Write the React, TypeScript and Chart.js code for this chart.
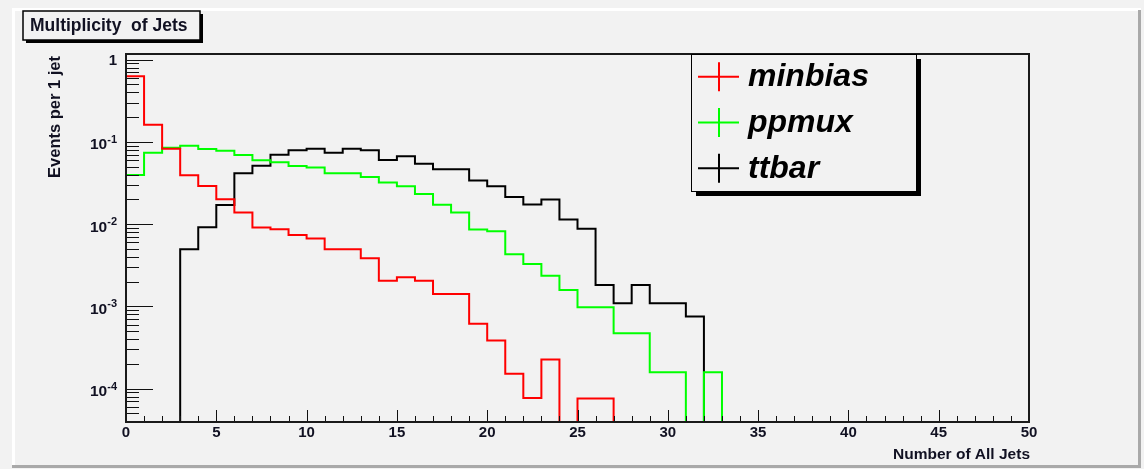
import React, { useEffect, useRef } from "react";
import { Chart, registerables } from "chart.js";

Chart.register(...registerables);

// ---------------- DATA ----------------
const seriesNames = ["minbias", "ppmux", "ttbar"];
const seriesColors = ["#ff0000", "#00ff00", "#000000"];

const xMin = 0;
const xMax = 50;

// one value per bin (bin i spans [i, i+1])
const minbias = [
  0.628, 0.161, 0.0827, 0.0393, 0.0291, 0.0201, 0.0139, 0.0091, 0.0087, 0.0074,
  0.0067, 0.00494, 0.00494, 0.00384, 0.00205, 0.00226, 0.00205, 0.00142, 0.00142, 0.000614,
  0.000385, 0.000152, 0.000077, 0.000226, 0, 0.000076, 0.000076, 0, 0, 0,
  0, 0, 0, 0, 0, 0, 0, 0, 0, 0,
  0, 0, 0, 0, 0, 0, 0, 0, 0, 0,
];
const ppmux = [
  0.0396, 0.074, 0.085, 0.0899, 0.0818, 0.0782, 0.0692, 0.0597, 0.0565, 0.0509,
  0.049, 0.0415, 0.0415, 0.0375, 0.032, 0.0289, 0.0233, 0.0172, 0.0139, 0.00863,
  0.00822, 0.0043, 0.00327, 0.00236, 0.00158, 0.00098, 0.00098, 0.000473, 0.000473, 0.000159,
  0.000159, 0, 0.000159, 0, 0, 0, 0, 0, 0, 0,
  0, 0, 0, 0, 0, 0, 0, 0, 0, 0,
];
const ttbar = [
  0, 0, 0, 0.00494, 0.0092, 0.0171, 0.0415, 0.0514, 0.0699, 0.0789,
  0.0827, 0.074, 0.0827, 0.0789, 0.0602, 0.0667, 0.0543, 0.0464, 0.0464, 0.0339,
  0.0289, 0.0214, 0.0173, 0.0199, 0.0114, 0.00877, 0.00182, 0.00109, 0.00182, 0.00109,
  0.00109, 0.000753, 0, 0, 0, 0, 0, 0, 0, 0,
  0, 0, 0, 0, 0, 0, 0, 0, 0, 0,
];

const xMajorTicks = [0, 5, 10, 15, 20, 25, 30, 35, 40, 45, 50];
const xTickLabels = ["0", "5", "10", "15", "20", "25", "30", "35", "40", "45", "50"];
const yMajorTicks = [1, 0.1, 0.01, 0.001, 0.0001];
const yTickBases = ["1", "10", "10", "10", "10"];
const yTickExps = ["", "-1", "-2", "-3", "-4"];

const yMin = 3.94e-5;
const yMax = 1.17;

const titleText = "Multiplicity  of Jets";
const xTitle = "Number of All Jets";
const yTitle = "Events per 1 jet";

// ---------------- STYLE ----------------
const BG = "#f2f2f2";
const FONT = '"Liberation Sans", Arial, Helvetica, sans-serif';
const TXT = "#111122";

// empty bins are drawn on the bottom of the (log) axis, as ROOT does
function histPoints(values: number[]) {
  const floor = (v: number) => (v > 0 ? v : yMin);
  const pts = values.map((v, i) => ({ x: xMin + i, y: floor(v) }));
  pts.push({ x: xMin + values.length, y: floor(values[values.length - 1]) });
  return pts;
}

const rootPlugin = {
  id: "rootStyle",
  beforeDraw(chart: any) {
    const ctx = chart.ctx as CanvasRenderingContext2D;
    const W = chart.width;
    const H = chart.height;
    ctx.save();
    ctx.fillStyle = BG;
    ctx.fillRect(0, 0, W, H);
    // raised pad border
    ctx.fillStyle = "#ffffff";
    ctx.fillRect(12, 8, 1129, 3);
    ctx.fillRect(12, 8, 3, 460);
    ctx.fillStyle = "#a9a9a9";
    ctx.fillRect(1138, 10, 3, 458);
    ctx.fillRect(12, 465, 1129, 3);
    ctx.restore();
  },
  afterDatasetsDraw(chart: any) {
    const ctx = chart.ctx as CanvasRenderingContext2D;
    const area = chart.chartArea;
    const xs = chart.scales.x;
    const ys = chart.scales.y;
    ctx.save();

    // ticks
    ctx.strokeStyle = "#111";
    ctx.lineWidth = 1;
    ctx.beginPath();
    for (let v = xMin; v <= xMax; v += 1) {
      const px = Math.round(xs.getPixelForValue(v)) + 0.5;
      const major = xMajorTicks.includes(v);
      const len = major ? 12 : 6;
      ctx.moveTo(px, area.bottom);
      ctx.lineTo(px, area.bottom - len);
    }
    for (let d = -5; d <= 0; d++) {
      for (let k = 1; k <= 9; k++) {
        const v = k * Math.pow(10, d);
        if (v < yMin || v > yMax) continue;
        const py = Math.round(ys.getPixelForValue(v)) + 0.5;
        const len = k === 1 ? 27 : 13;
        ctx.moveTo(area.left, py);
        ctx.lineTo(area.left + len, py);
      }
    }
    ctx.stroke();

    // frame
    ctx.strokeStyle = "#1a1a1a";
    ctx.lineWidth = 2;
    ctx.strokeRect(area.left, area.top, area.right - area.left, area.bottom - area.top);

    // x tick labels
    ctx.fillStyle = TXT;
    ctx.font = `bold 15px ${FONT}`;
    ctx.textAlign = "center";
    ctx.textBaseline = "middle";
    xMajorTicks.forEach((v, i) => {
      ctx.fillText(xTickLabels[i], xs.getPixelForValue(v), area.bottom + 11);
    });

    // y tick labels
    const rightEdge = area.left - 9;
    yMajorTicks.forEach((v, i) => {
      const py = ys.getPixelForValue(v);
      const exp = yTickExps[i];
      if (!exp) {
        ctx.font = `bold 15px ${FONT}`;
        ctx.textAlign = "right";
        ctx.textBaseline = "middle";
        ctx.fillText(yTickBases[i], rightEdge, py + 1);
      } else {
        ctx.font = `bold 11px ${FONT}`;
        const ew = ctx.measureText(exp).width;
        ctx.textAlign = "right";
        ctx.textBaseline = "alphabetic";
        ctx.fillText(exp, rightEdge, py + 1);
        ctx.font = `bold 15.5px ${FONT}`;
        ctx.fillText(yTickBases[i], rightEdge - ew, py + 7.5);
      }
    });

    // axis titles
    ctx.font = `bold 15.5px ${FONT}`;
    ctx.textAlign = "right";
    ctx.textBaseline = "alphabetic";
    ctx.fillText(xTitle, area.right + 1, 459);

    ctx.save();
    ctx.translate(60, area.top + 2);
    ctx.rotate(-Math.PI / 2);
    ctx.font = `bold 16.5px ${FONT}`;
    ctx.textAlign = "right";
    ctx.textBaseline = "alphabetic";
    ctx.fillText(yTitle, 0, 0);
    ctx.restore();

    // title box
    const tb = { x: 23, y: 11, w: 177, h: 29 };
    ctx.fillStyle = "#000";
    ctx.fillRect(tb.x + 3, tb.y + 3, tb.w, tb.h);
    ctx.fillStyle = BG;
    ctx.fillRect(tb.x, tb.y, tb.w, tb.h);
    ctx.strokeStyle = "#000";
    ctx.lineWidth = 1.5;
    ctx.strokeRect(tb.x, tb.y, tb.w, tb.h);
    ctx.fillStyle = TXT;
    ctx.font = `bold 17.5px ${FONT}`;
    ctx.textAlign = "left";
    ctx.textBaseline = "alphabetic";
    ctx.fillText(titleText, 30, 31);

    // legend
    const lg = { x: 691, y: area.top, w: 225, h: 137 };
    ctx.fillStyle = "#000";
    ctx.fillRect(lg.x + 5, lg.y + 5, lg.w, lg.h);
    ctx.fillStyle = BG;
    ctx.fillRect(lg.x, lg.y, lg.w, lg.h);
    ctx.strokeStyle = "#000";
    ctx.lineWidth = 1;
    ctx.strokeRect(lg.x + 0.5, lg.y + 0.5, lg.w, lg.h);
    const rowH = lg.h / seriesNames.length;
    seriesNames.forEach((name, i) => {
      const cy = lg.y + rowH * (i + 0.5);
      ctx.strokeStyle = seriesColors[i];
      ctx.lineWidth = 2;
      ctx.beginPath();
      ctx.moveTo(698, cy);
      ctx.lineTo(739, cy);
      ctx.moveTo(719, cy - 14.5);
      ctx.lineTo(719, cy + 14.5);
      ctx.stroke();
      ctx.fillStyle = "#000";
      ctx.font = `italic bold 32px ${FONT}`;
      ctx.textAlign = "left";
      ctx.textBaseline = "alphabetic";
      ctx.fillText(name, 748, cy + 9.5);
    });

    ctx.restore();
  },
};

export default function App() {
  const canvasRef = useRef<HTMLCanvasElement | null>(null);

  useEffect(() => {
    const canvas = canvasRef.current;
    if (!canvas) return;
    const seriesValues = [minbias, ppmux, ttbar];
    const chart = new Chart(canvas, {
      type: "line",
      data: {
        datasets: seriesValues.map((vals, i) => ({
          label: seriesNames[i],
          data: histPoints(vals),
          borderColor: seriesColors[i],
          backgroundColor: seriesColors[i],
          borderWidth: 2,
          pointRadius: 0,
          stepped: "before" as const,
          fill: false,
          tension: 0,
        })),
      },
      options: {
        responsive: false,
        animation: false,
        devicePixelRatio: 1,
        layout: { padding: { left: 126, right: 115, top: 54, bottom: 47 } },
        plugins: {
          legend: { display: false },
          tooltip: { enabled: false },
          title: { display: false },
        },
        scales: {
          x: { type: "linear", min: xMin, max: xMax, display: false },
          y: { type: "logarithmic", min: yMin, max: yMax, display: false },
        },
      },
      plugins: [rootPlugin],
    });
    return () => chart.destroy();
  }, []);

  return (
    <div style={{ position: "fixed", left: 0, top: 0, width: 1144, height: 469, background: BG }}>
      <canvas ref={canvasRef} width={1144} height={469} style={{ display: "block" }} />
    </div>
  );
}
